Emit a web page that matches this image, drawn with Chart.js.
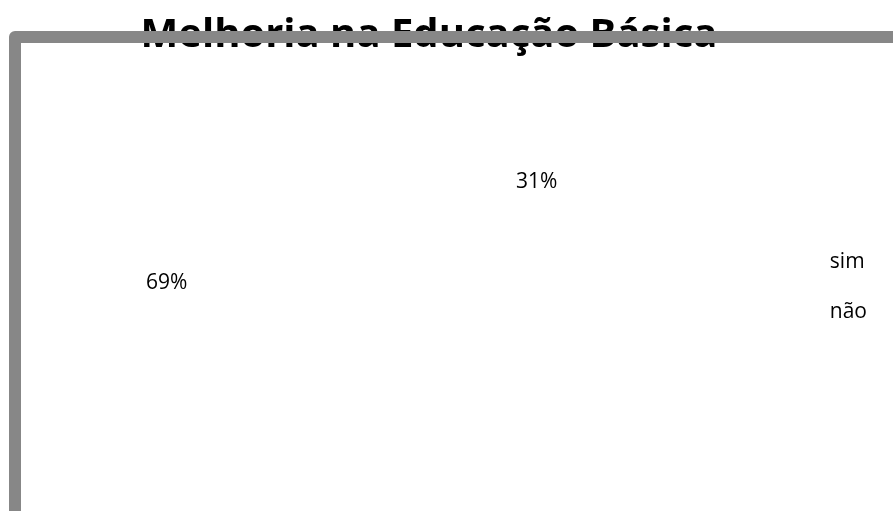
<!DOCTYPE html>
<html>
<head>
<meta charset="utf-8">
<script src="https://cdn.jsdelivr.net/npm/chart.js@4"></script>
<style>
  html, body { margin: 0; padding: 0; background: #fff; }
  #wrap { width: 893px; height: 511px; }
</style>
</head>
<body>
<div id="wrap"><canvas id="pie"></canvas></div>
<script>
const labels = ['sim', 'não'];
const values = [31, 69];
const titleText = 'Melhoria na Educação Básica';

const FONT = '"Open Sans", Lato, sans-serif';

// percent labels, placed along each slice's middle angle
const pctLabels = {
    id: 'pctLabels',
    afterDatasetsDraw(chart) {
        const ctx = chart.ctx;
        const meta = chart.getDatasetMeta(0);
        const total = values.reduce((a, b) => a + b, 0);
        ctx.save();
        ctx.font = '21px ' + FONT;
        ctx.fillStyle = '#000';
        ctx.textAlign = 'center';
        ctx.textBaseline = 'middle';
        meta.data.forEach((arc, i) => {
            const p = arc.getProps(['x', 'y', 'startAngle', 'endAngle', 'outerRadius']);
            const mid = (p.startAngle + p.endAngle) / 2;
            const r = p.outerRadius * 1.18;
            ctx.fillText(Math.round(values[i] / total * 100) + '%', p.x + Math.cos(mid) * r, p.y + Math.sin(mid) * r);
        });
        ctx.restore();
    }
};

// gray frame that runs over the title
const frame = {
    id: 'frame',
    afterDraw(chart) {
        const ctx = chart.ctx;
        ctx.save();
        ctx.strokeStyle = '#878787';
        ctx.lineWidth = 12;
        ctx.lineJoin = 'round';
        ctx.beginPath();
        ctx.moveTo(15, 530);
        ctx.lineTo(15, 37);
        ctx.lineTo(910, 37);
        ctx.stroke();
        ctx.restore();
    }
};

function pieChart(id) {
    const data = {
        labels: labels,
        datasets: [{
            data: values,
            backgroundColor: ['#ffffff', '#ffffff'],
            borderWidth: 0
        }]
    };
    const config = {
        type: 'pie',
        data: data,
        options: {
            responsive: true,
            maintainAspectRatio: false,
            animation: false,
            rotation: 19,
            layout: {
                padding: {left: -19, right: 16, top: 0, bottom: 116}
            },
            plugins: {
                tooltip: {enabled: false},
                title: {
                    display: true,
                    text: titleText,
                    color: '#000',
                    font: {family: FONT, size: 40, weight: 'bold'},
                    padding: {top: 12, bottom: 10}
                },
                legend: {
                    position: 'right',
                    align: 'start',
                    title: {
                        display: true,
                        text: '',
                        font: {size: 10},
                        padding: {top: 211, bottom: 0}
                    },
                    labels: {
                        color: '#000',
                        font: {family: FONT, size: 21},
                        boxWidth: 87,
                        padding: 29
                    }
                }
            }
        },
        plugins: [pctLabels, frame]
    };
    let ctx = document.getElementById(id).getContext('2d');
    new Chart(ctx, config);
}

pieChart('pie');
</script>
</body>
</html>
